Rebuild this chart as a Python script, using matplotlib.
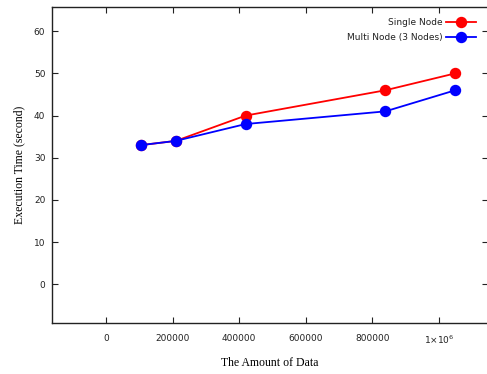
import matplotlib
matplotlib.use("Agg")
import matplotlib.pyplot as plt

data_sizes = [104857, 209715, 419430, 838861, 1048576]
single_node = [33, 34, 40, 46, 50]
multi_node = [33, 34, 38, 41, 46]
x_ticks = [0, 200000, 400000, 600000, 800000, 1000000]
x_tick_labels = ["0", "200000", "400000", "600000", "800000", "1×10$^{6}$"]
y_ticks = [0, 10, 20, 30, 40, 50, 60]

fig = plt.figure(figsize=(4.87, 3.74), dpi=100)
ax = fig.add_axes([0.106, 0.137, 0.896, 0.845])

ax.plot(data_sizes, single_node, color="#ff0000", lw=1.3, marker="o", ms=7.2,
        label="Single Node")
ax.plot(data_sizes, multi_node, color="#0000ff", lw=1.3, marker="o", ms=7.2,
        label="Multi Node (3 Nodes)")

ax.set_xlim(-163000, 1147000)
ax.set_ylim(-9.1, 65.8)
ax.set_xticks(x_ticks)
ax.set_xticklabels(x_tick_labels)
ax.set_yticks(y_ticks)
ax.tick_params(direction="in", top=True, right=True, length=4, width=0.8,
               labelsize=6.5, colors="#222222")
ax.tick_params(axis="x", pad=8)
ax.tick_params(axis="y", pad=4.5)
for s in ax.spines.values():
    s.set_linewidth(1.0)
    s.set_color("#222222")

ax.set_xlabel("The Amount of Data", family="Liberation Serif", fontsize=8.5, labelpad=8)
ax.set_ylabel("Execution Time (second)", family="Liberation Serif", fontsize=8.5, labelpad=6)

leg = ax.legend(loc="upper right", bbox_to_anchor=(0.985, 0.982), frameon=False,
                markerfirst=False, fontsize=6.5, handlelength=3.3,
                handletextpad=0.45, labelspacing=0.65, borderaxespad=0.2)
for t in leg.get_texts():
    t.set_ha("right")
    t.set_color("#222222")

fig.savefig("out.png", dpi=100)
